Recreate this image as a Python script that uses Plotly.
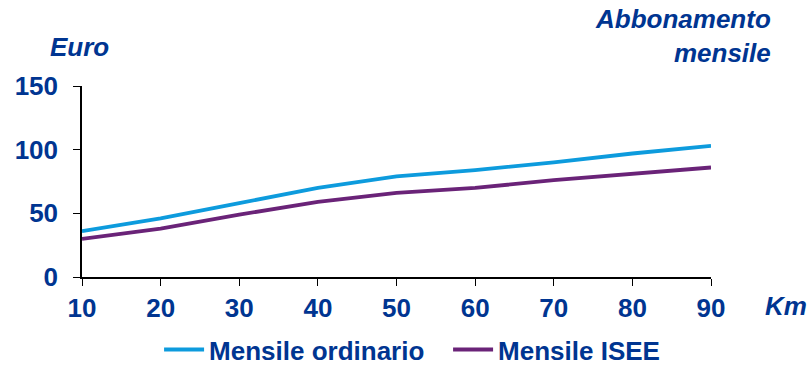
import plotly.graph_objects as go

km = [10, 20, 30, 40, 50, 60, 70, 80, 90]
ordinario = [36, 46, 58, 70, 79, 84, 90, 97, 103]
isee = [30, 38, 49, 59, 66, 70, 76, 81, 86]
y_ticks = [0, 50, 100, 150]

NAVY = "#003591"
FONT = "Liberation Sans, Arial, sans-serif"

fig = go.Figure()
fig.add_trace(go.Scatter(x=km, y=ordinario, mode="lines", name="Mensile ordinario",
                         line=dict(color="#0D9BDD", width=3.8)))
fig.add_trace(go.Scatter(x=km, y=isee, mode="lines", name="Mensile ISEE",
                         line=dict(color="#6A2378", width=3.8)))

tf = dict(size=26, color=NAVY, family=FONT, weight="bold")

fig.update_layout(
    width=808, height=386,
    margin=dict(l=82, r=97, t=86, b=109),
    plot_bgcolor="white", paper_bgcolor="white",
    font=dict(family=FONT, color=NAVY, size=26),
    showlegend=True,
    legend=dict(orientation="h", x=0.582, xanchor="center", y=-0.38, yanchor="middle",
                font=tf, itemwidth=40, traceorder="normal", entrywidth=234,
                entrywidthmode="pixels"),
    xaxis=dict(range=[10, 90], tickvals=km, showline=True, linecolor="black", linewidth=1.5,
               ticks="outside", ticklen=7, tickcolor="black", showgrid=False, zeroline=False,
               tickfont=tf, ticklabelstandoff=0),
    yaxis=dict(range=[0, 150], tickvals=y_ticks, showline=True, linecolor="black", linewidth=1.5,
               ticks="outside", ticklen=7, tickcolor="black", showgrid=False, zeroline=False,
               tickfont=tf, ticklabelstandoff=10),
    annotations=[
        dict(text="<b><i>Euro</i></b>", xref="paper", yref="paper", x=-0.054, y=1.204,
             xanchor="left", yanchor="middle", showarrow=False, font=dict(size=26, color=NAVY)),
        dict(text="<b><i>Abbonamento<br>mensile</i></b>", xref="paper", yref="paper", x=1.0986, y=1.262,
             xanchor="right", yanchor="middle", align="right", showarrow=False,
             font=dict(size=26, color=NAVY)),
        dict(text="<b><i>Km</i></b>", xref="paper", yref="paper", x=1.0827, y=-0.152,
             xanchor="left", yanchor="middle", showarrow=False, font=dict(size=26, color=NAVY)),
    ],
)

fig.write_html("out.html")
